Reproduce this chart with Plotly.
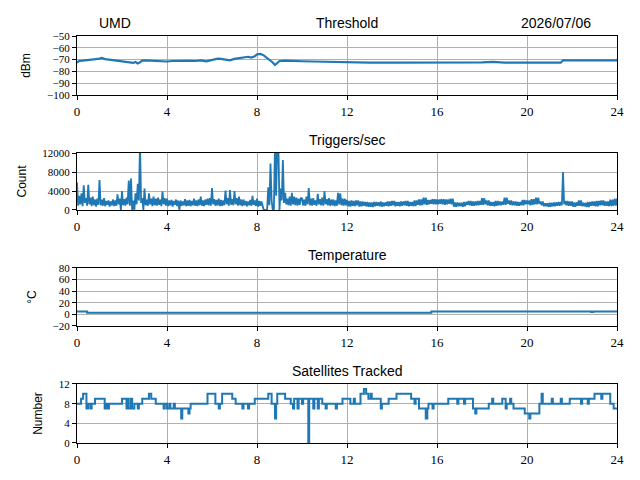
import plotly.graph_objects as go
from plotly.subplots import make_subplots

# ---- data (hours of the day) ----
thr_hours = [0.0, 0.1, 0.25, 0.5, 0.75, 1.0, 1.1, 1.25, 1.5, 1.75, 2.0, 2.25, 2.4, 2.5, 2.6,
             2.7, 2.8, 2.9, 3.0, 3.25, 3.5, 3.75, 4.0, 4.25, 4.5, 4.75, 5.0, 5.25, 5.5, 5.75,
             6.0, 6.25, 6.4, 6.6, 6.8, 7.0, 7.25, 7.5, 7.6, 7.75, 7.9, 8.0, 8.15, 8.3, 8.45,
             8.6, 8.7, 8.8, 8.9, 9.0, 9.25, 9.5, 10.0, 10.5, 11.0, 11.5, 12.0, 12.5, 13.0,
             14.0, 15.0, 16.0, 17.0, 18.0, 18.5, 19.0, 20.0, 21.0, 21.5, 21.6, 22.0, 23.0, 24.0]
thr_dbm = [-72.5, -71.0, -70.8, -70.0, -69.8, -69.2, -68.6, -69.6, -70.2, -70.5, -71.2, -71.8,
           -72.5, -72.8, -72.0, -73.2, -72.3, -70.8, -70.6, -71.0, -70.8, -71.4, -71.6, -71.2,
           -71.0, -71.3, -71.0, -71.2, -70.6, -71.4, -70.0, -69.2, -69.4, -70.3, -70.6, -69.4,
           -68.8, -68.0, -67.6, -68.3, -67.2, -65.6, -65.2, -66.4, -68.5, -70.8, -72.4, -74.6,
           -72.8, -71.2, -70.9, -71.2, -71.4, -71.6, -71.8, -72.0, -72.6, -72.5, -72.6, -72.5,
           -72.6, -72.4, -72.6, -72.4, -72.0, -72.5, -72.6, -72.7, -72.6, -70.6, -70.7, -70.5,
           -70.6]

# one row per hour, samples every 0.05 h
trig_hours = [
    0.0, 0.05, 0.1, 0.15, 0.2, 0.25, 0.3, 0.35, 0.4, 0.45, 0.5, 0.55, 0.6, 0.65, 0.7, 0.75, 0.8, 0.85, 0.9, 0.95,
    1.0, 1.05, 1.1, 1.15, 1.2, 1.25, 1.3, 1.35, 1.4, 1.45, 1.5, 1.55, 1.6, 1.65, 1.7, 1.75, 1.8, 1.85, 1.9, 1.95,
    2.0, 2.05, 2.1, 2.15, 2.2, 2.25, 2.3, 2.35, 2.4, 2.45, 2.5, 2.55, 2.6, 2.65, 2.7, 2.75, 2.8, 2.85, 2.9, 2.95,
    3.0, 3.05, 3.1, 3.15, 3.2, 3.25, 3.3, 3.35, 3.4, 3.45, 3.5, 3.55, 3.6, 3.65, 3.7, 3.75, 3.8, 3.85, 3.9, 3.95,
    4.0, 4.05, 4.1, 4.15, 4.2, 4.25, 4.3, 4.35, 4.4, 4.45, 4.5, 4.55, 4.6, 4.65, 4.7, 4.75, 4.8, 4.85, 4.9, 4.95,
    5.0, 5.05, 5.1, 5.15, 5.2, 5.25, 5.3, 5.35, 5.4, 5.45, 5.5, 5.55, 5.6, 5.65, 5.7, 5.75, 5.8, 5.85, 5.9, 5.95,
    6.0, 6.05, 6.1, 6.15, 6.2, 6.25, 6.3, 6.35, 6.4, 6.45, 6.5, 6.55, 6.6, 6.65, 6.7, 6.75, 6.8, 6.85, 6.9, 6.95,
    7.0, 7.05, 7.1, 7.15, 7.2, 7.25, 7.3, 7.35, 7.4, 7.45, 7.5, 7.55, 7.6, 7.65, 7.7, 7.75, 7.8, 7.85, 7.9, 7.95,
    8.0, 8.05, 8.1, 8.15, 8.2, 8.25, 8.3, 8.35, 8.4, 8.45, 8.5, 8.55, 8.6, 8.65, 8.7, 8.75, 8.8, 8.85, 8.9, 8.95,
    9.0, 9.05, 9.1, 9.15, 9.2, 9.25, 9.3, 9.35, 9.4, 9.45, 9.5, 9.55, 9.6, 9.65, 9.7, 9.75, 9.8, 9.85, 9.9, 9.95,
    10.0, 10.05, 10.1, 10.15, 10.2, 10.25, 10.3, 10.35, 10.4, 10.45, 10.5, 10.55, 10.6, 10.65, 10.7, 10.75, 10.8, 10.85, 10.9, 10.95,
    11.0, 11.05, 11.1, 11.15, 11.2, 11.25, 11.3, 11.35, 11.4, 11.45, 11.5, 11.55, 11.6, 11.65, 11.7, 11.75, 11.8, 11.85, 11.9, 11.95,
    12.0, 12.05, 12.1, 12.15, 12.2, 12.25, 12.3, 12.35, 12.4, 12.45, 12.5, 12.55, 12.6, 12.65, 12.7, 12.75, 12.8, 12.85, 12.9, 12.95,
    13.0, 13.05, 13.1, 13.15, 13.2, 13.25, 13.3, 13.35, 13.4, 13.45, 13.5, 13.55, 13.6, 13.65, 13.7, 13.75, 13.8, 13.85, 13.9, 13.95,
    14.0, 14.05, 14.1, 14.15, 14.2, 14.25, 14.3, 14.35, 14.4, 14.45, 14.5, 14.55, 14.6, 14.65, 14.7, 14.75, 14.8, 14.85, 14.9, 14.95,
    15.0, 15.05, 15.1, 15.15, 15.2, 15.25, 15.3, 15.35, 15.4, 15.45, 15.5, 15.55, 15.6, 15.65, 15.7, 15.75, 15.8, 15.85, 15.9, 15.95,
    16.0, 16.05, 16.1, 16.15, 16.2, 16.25, 16.3, 16.35, 16.4, 16.45, 16.5, 16.55, 16.6, 16.65, 16.7, 16.75, 16.8, 16.85, 16.9, 16.95,
    17.0, 17.05, 17.1, 17.15, 17.2, 17.25, 17.3, 17.35, 17.4, 17.45, 17.5, 17.55, 17.6, 17.65, 17.7, 17.75, 17.8, 17.85, 17.9, 17.95,
    18.0, 18.05, 18.1, 18.15, 18.2, 18.25, 18.3, 18.35, 18.4, 18.45, 18.5, 18.55, 18.6, 18.65, 18.7, 18.75, 18.8, 18.85, 18.9, 18.95,
    19.0, 19.05, 19.1, 19.15, 19.2, 19.25, 19.3, 19.35, 19.4, 19.45, 19.5, 19.55, 19.6, 19.65, 19.7, 19.75, 19.8, 19.85, 19.9, 19.95,
    20.0, 20.05, 20.1, 20.15, 20.2, 20.25, 20.3, 20.35, 20.4, 20.45, 20.5, 20.55, 20.6, 20.65, 20.7, 20.75, 20.8, 20.85, 20.9, 20.95,
    21.0, 21.05, 21.1, 21.15, 21.2, 21.25, 21.3, 21.35, 21.4, 21.45, 21.5, 21.55, 21.6, 21.65, 21.7, 21.75, 21.8, 21.85, 21.9, 21.95,
    22.0, 22.05, 22.1, 22.15, 22.2, 22.25, 22.3, 22.35, 22.4, 22.45, 22.5, 22.55, 22.6, 22.65, 22.7, 22.75, 22.8, 22.85, 22.9, 22.95,
    23.0, 23.05, 23.1, 23.15, 23.2, 23.25, 23.3, 23.35, 23.4, 23.45, 23.5, 23.55, 23.6, 23.65, 23.7, 23.75, 23.8, 23.85, 23.9, 23.95,
    24.0]
trig_counts = [
    5800, 900, 3000, 1200, 3500, 800, 5200, 1500, 2500, 900, 5300, 1200, 2600, 800, 2800, 1000, 2200, 700, 2400, 1100,
    6300, 1000, 2200, 900, 2500, 800, 1900, 1100, 2000, 700, 1800, 1000, 2200, 800, 2000, 900, 3300, 1200, 2400, 0,
    4000, 1000, 2300, 900, 2600, 1200, 6200, 900, 6600, 0, 2000, 0, 3500, 1200, 5500, 2000, 14000, 1500, 2500, 0,
    4500, 1000, 2200, 900, 3500, 1200, 2400, 800, 2800, 1000, 2400, 900, 2600, 1100, 2200, 800, 3900, 1200, 2500, 900,
    2400, 800, 2000, 1000, 2100, 700, 1900, 1100, 2200, 800, 2000, 0, 2000, 900, 1800, 1000, 2300, 800, 2000, 900,
    2100, 800, 1900, 1000, 2400, 900, 2000, 800, 2200, 1000, 2800, 900, 2000, 800, 2200, 1100, 2400, 1000, 2500, 900,
    4600, 1200, 2300, 900, 2100, 1000, 2400, 800, 2100, 900, 2000, 1000, 4100, 1200, 2500, 900, 4200, 1100, 2300, 1000,
    4000, 1200, 2500, 900, 2800, 1000, 2200, 800, 2200, 1000, 1900, 800, 1800, 1000, 2100, 900, 3000, 1100, 2000, 800,
    2400, 700, 1900, 900, 1800, 600, 0, 0, 0, 0, 4800, 1000, 9800, 2000, 0, 0, 14000, 3000, 14000, 14000,
    0, 4500, 2000, 10500, 1500, 3600, 1200, 2400, 1000, 2800, 900, 3600, 1200, 2800, 1000, 2600, 900, 2400, 1100, 2600,
    2400, 1000, 2200, 900, 2800, 1200, 4600, 1000, 2400, 900, 2500, 1100, 2000, 900, 3400, 1200, 2300, 1000, 2600, 900,
    4000, 1200, 2300, 1000, 2500, 900, 2200, 1000, 2200, 800, 2000, 900, 3600, 1200, 3500, 1000, 2400, 900, 2400, 1000,
    2100, 800, 1900, 700, 2000, 900, 1900, 800, 2000, 1000, 2000, 700, 1800, 800, 1800, 900, 1700, 800, 1700, 700,
    1600, 700, 1600, 600, 1700, 800, 1700, 900, 1600, 800, 1800, 700, 1600, 800, 1600, 900, 1800, 800, 1800, 900,
    1900, 1000, 1900, 800, 1700, 900, 1700, 800, 1800, 900, 1800, 1000, 1900, 900, 1900, 800, 1700, 900, 1700, 800,
    2000, 800, 2000, 1100, 2200, 1000, 2200, 1000, 2600, 1200, 2600, 1100, 2100, 1200, 2100, 1300, 2300, 1200, 2300, 1200,
    2200, 1200, 2200, 1300, 2300, 1200, 2300, 1100, 2200, 1200, 2200, 1300, 2400, 1200, 2400, 700, 1600, 700, 1600, 800,
    1500, 800, 1500, 700, 1700, 800, 1700, 1100, 1900, 1000, 1900, 900, 1800, 900, 1800, 1000, 1900, 1000, 1900, 1100,
    2500, 1100, 2500, 1200, 2000, 1000, 2000, 900, 1700, 900, 1700, 800, 1900, 900, 1900, 1000, 1800, 1000, 1800, 1100,
    2600, 1100, 2600, 1300, 2000, 1100, 2000, 1000, 1800, 1000, 1800, 900, 1700, 900, 1700, 1000, 2100, 1000, 2100, 1200,
    2000, 1200, 2000, 1000, 2300, 1100, 2300, 1200, 2600, 1200, 2600, 1300, 1800, 1000, 1800, 800, 1400, 800, 1400, 700,
    1500, 700, 1500, 800, 1600, 800, 1600, 900, 1700, 900, 1700, 1000, 8000, 1200, 1900, 1000, 1900, 900, 1800, 900,
    1800, 700, 1600, 700, 1600, 900, 2000, 900, 2000, 800, 1500, 800, 1500, 600, 1700, 600, 1700, 900, 1800, 900,
    1800, 800, 1900, 800, 1900, 1000, 2000, 1000, 2000, 900, 1800, 900, 1800, 800, 2200, 800, 2200, 900, 2400, 900,
    2400]

temp_hours = [0.0, 0.4, 0.45, 15.7, 15.75, 22.8, 22.85, 22.95, 24.0]
temp_degc = [5, 5, 3, 3, 5, 5, 4, 5, 5]

sat_hours = [0.0, 0.18, 0.27, 0.42, 0.5, 0.6, 0.65, 0.8, 1.23, 1.3, 1.35, 1.42, 1.47, 2.0,
             2.2, 2.25, 2.3, 2.4, 2.45, 2.55, 2.7, 2.75, 2.9, 3.2, 3.3, 3.5, 3.85, 3.9, 4.0,
             4.1, 4.15, 4.3, 4.35, 4.5, 4.63, 4.68, 4.95, 5.0, 5.05, 5.8, 5.9, 6.15, 6.3,
             6.35, 6.45, 6.9, 7.05, 7.35, 7.4, 7.6, 7.65, 7.9, 8.5, 8.65, 8.8, 8.85, 8.9,
             9.25, 9.5, 9.6, 9.65, 9.8, 9.85, 10.0, 10.05, 10.28, 10.32, 10.5, 10.55, 10.7,
             10.75, 10.9, 11.05, 11.1, 11.5, 11.55, 11.8, 12.15, 12.3, 12.35, 12.6, 12.75,
             12.85, 12.95, 13.05, 13.1, 13.2, 13.5, 13.55, 13.6, 13.85, 14.2, 14.85, 15.0,
             15.05, 15.2, 15.5, 15.57, 15.62, 15.8, 15.85, 16.0, 16.5, 16.7, 16.9, 16.95,
             17.2, 17.25, 17.6, 17.7, 17.75, 17.85, 18.3, 18.45, 18.5, 18.65, 18.9, 19.05,
             19.1, 19.25, 19.3, 19.4, 19.9, 20.1, 20.15, 20.2, 20.55, 20.65, 20.7, 20.9,
             21.1, 21.15, 21.5, 21.55, 21.9, 22.4, 22.45, 22.7, 22.75, 23.0, 23.3, 23.35,
             23.7, 23.85, 24.0]
sat_counts = [8, 9, 10, 7, 8, 7, 8, 9, 7, 8, 7, 8, 8, 9,
              7, 9, 7, 9, 7, 8, 7, 8, 9, 10, 9, 8, 7, 8, 7,
              8, 7, 8, 7, 7, 5, 7, 6, 7, 8, 10, 10, 8, 7,
              8, 10, 9, 8, 7, 8, 7, 8, 9, 10, 8, 5, 8, 10,
              9, 8, 7, 9, 7, 9, 8, 9, 0, 9, 7, 9, 7,
              9, 8, 7, 8, 7, 8, 9, 8, 9, 8, 10, 11,
              10, 9, 10, 9, 9, 7, 8, 8, 9, 10, 9, 8,
              9, 7, 5, 7, 8, 7, 8, 8, 9, 9, 8, 9,
              8, 9, 7, 6, 7, 7, 8, 9, 8, 8, 9, 7,
              8, 9, 8, 7, 6, 5, 6, 6, 8, 10, 8, 8,
              9, 8, 9, 8, 9, 8, 9, 8, 9, 10, 9, 10,
              8, 7, 7]

x_ticks = [0, 4, 8, 12, 16, 20, 24]
blue = "#1f77b4"

fig = make_subplots(rows=4, cols=1, vertical_spacing=0.14,
                    subplot_titles=("Threshold", "Triggers/sec", "Temperature", "Satellites Tracked"))

fig.add_trace(go.Scatter(x=thr_hours, y=thr_dbm, mode="lines",
                         line=dict(color=blue, width=2.2)), row=1, col=1)
fig.add_trace(go.Scatter(x=trig_hours, y=trig_counts, mode="lines",
                         line=dict(color=blue, width=1.8)), row=2, col=1)
fig.add_trace(go.Scatter(x=temp_hours, y=temp_degc, mode="lines",
                         line=dict(color=blue, width=2, shape="hv")), row=3, col=1)
fig.add_trace(go.Scatter(x=sat_hours, y=sat_counts, mode="lines",
                         line=dict(color=blue, width=2, shape="hv")), row=4, col=1)

# the page body adds an 8px offset, margins below are set to compensate
domains = [[0.855, 1.0], [0.5725, 0.7125], [0.2875, 0.43], [0.0, 0.145]]
y_specs = [
    ("dBm", [-100, -50], [-100, -90, -80, -70, -60, -50]),
    ("Count", [0, 12000], [0, 4000, 8000, 12000]),
    ("°C", [-20, 80], [-20, 0, 20, 40, 60, 80]),
    ("Number", [0, 12], [0, 4, 8, 12]),
]

axis_common = dict(showline=True, linecolor="black", linewidth=1, mirror=True,
                   ticks="outside", ticklen=4, tickcolor="black", automargin=False,
                   showgrid=True, gridcolor="#b0b0b0", gridwidth=1, zeroline=False)

for i, (label, rng, ticks) in enumerate(y_specs):
    r = i + 1
    fig.update_xaxes(range=[0, 24], tickvals=x_ticks, row=r, col=1,
                     tickfont=dict(family="Liberation Serif", size=13, color="black"),
                     **axis_common)
    fig.update_yaxes(range=rng, tickvals=ticks, ticktext=[str(t).replace("-", "\u2212") for t in ticks],
                     domain=domains[i], row=r, col=1,
                     tickfont=dict(family="Liberation Serif", size=11, color="black"),
                     title=dict(text=label, standoff=13,
                                font=dict(family="Liberation Sans", size=12, color="black")),
                     **axis_common)

# subplot titles
for i, ann in enumerate(fig.layout.annotations):
    ann.font = dict(family="Liberation Sans", size=14, color="black")
    ann.y = domains[i][1]
    ann.yshift = 3

fig.add_annotation(text="UMD", x=0.07, y=1.0, xref="paper", yref="paper",
                   xanchor="center", yanchor="bottom", yshift=3, showarrow=False,
                   font=dict(family="Liberation Sans", size=14, color="black"))
fig.add_annotation(text="2026/07/06", x=0.887, y=1.0, xref="paper", yref="paper",
                   xanchor="center", yanchor="bottom", yshift=3, showarrow=False,
                   font=dict(family="Liberation Sans", size=14, color="black"))

fig.update_layout(width=640, height=480, showlegend=False,
                  margin=dict(l=69, r=31, t=28, b=45),
                  plot_bgcolor="white", paper_bgcolor="white")

fig.write_html("out.html")
